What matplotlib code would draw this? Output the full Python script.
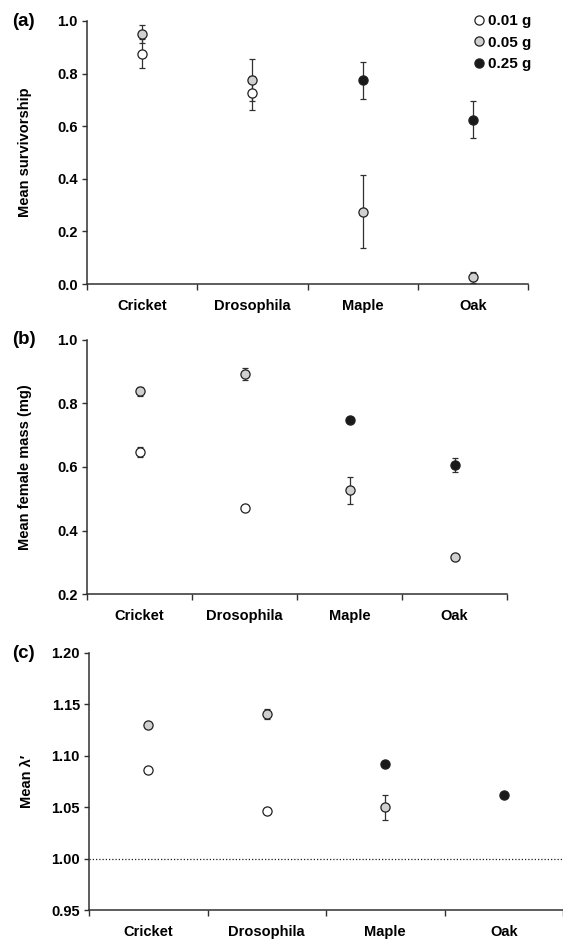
import numpy as np
import matplotlib
matplotlib.use("Agg")
import matplotlib.pyplot as plt
from matplotlib.lines import Line2D
from matplotlib.ticker import FixedLocator, FormatStrFormatter

plt.rcParams['font.family'] = ['Liberation Sans', 'DejaVu Sans']
plt.rcParams['font.weight'] = 'bold'

nan = np.nan

# categorias
categories = ['Cricket', 'Drosophila', 'Maple', 'Oak']
doses = ['0.01 g', '0.05 g', '0.25 g']

# (a) supervivencia media
surv_001 = [0.875, 0.725, nan, nan]
surv_001_err = [0.055, 0.065, 0.0, 0.0]
surv_005 = [0.950, 0.775, 0.275, 0.025]
surv_005_err = [0.033, 0.080, 0.140, 0.022]
surv_025 = [nan, nan, 0.775, 0.625]
surv_025_err = [0.0, 0.0, 0.070, 0.070]

# (b) masa media de hembras
mass_001 = [0.647, 0.470, nan, nan]
mass_001_err = [0.017, 0.004, 0.0, 0.0]
mass_005 = [0.838, 0.892, 0.527, 0.317]
mass_005_err = [0.013, 0.019, 0.042, 0.005]
mass_025 = [nan, nan, 0.749, 0.606]
mass_025_err = [0.0, 0.0, 0.007, 0.023]

# (c) lambda media
lam_001 = [1.086, 1.046, nan, nan]
lam_001_err = [0.002, 0.002, 0.0, 0.0]
lam_005 = [1.130, 1.141, 1.050, nan]
lam_005_err = [0.002, 0.005, 0.012, 0.0]
lam_025 = [nan, nan, 1.092, 1.062]
lam_025_err = [0.0, 0.0, 0.002, 0.002]

fills = ['white', '#d0d0d0', '#1a1a1a']
axcol = '#303030'

W, H = 563, 944
fig = plt.figure(figsize=(W / 100, H / 100), dpi=100)


def px_axes(left, right, top, bottom):
    return fig.add_axes([left / W, 1 - bottom / H, (right - left) / W, (bottom - top) / H])


def panel(ax, series, errs, ylim, yticks, fmt, ylabel, xright=3.5):
    x = np.arange(len(categories))
    for vals, err in zip(series, errs):
        ax.errorbar(x, vals, yerr=err, fmt='none', ecolor=axcol, elinewidth=0.9,
                    capsize=2.3, capthick=0.9, zorder=2)
    for vals, fc in zip(series, fills):
        ax.plot(x, vals, 'o', ms=6.6, mfc=fc, mec='#202020', mew=0.9, zorder=3,
                clip_on=False)
    ax.set_xlim(-0.5, xright)
    ax.set_ylim(*ylim)
    ax.yaxis.set_major_locator(FixedLocator(yticks))
    ax.yaxis.set_major_formatter(FormatStrFormatter(fmt))
    ax.xaxis.set_major_locator(FixedLocator([-0.5, 0.5, 1.5, 2.5, 3.5]))
    ax.xaxis.set_major_formatter(plt.NullFormatter())
    ax.xaxis.set_minor_locator(FixedLocator(x))
    ax.set_xticklabels(categories, minor=True)
    ax.tick_params(axis='x', which='major', direction='out', length=4, width=1.0, color=axcol)
    ax.tick_params(axis='x', which='minor', length=0, pad=11, labelsize=10.5)
    ax.tick_params(axis='y', direction='out', length=3.5, width=1.0, color=axcol,
                   labelsize=10.5, pad=3)
    for s in ['top', 'right']:
        ax.spines[s].set_visible(False)
    for s in ['left', 'bottom']:
        ax.spines[s].set_linewidth(1.1)
        ax.spines[s].set_color(axcol)
    ax.set_ylabel(ylabel, fontsize=10.5, fontweight='bold')
    ax.yaxis.set_label_coords(-55 / (ax.get_position().width * W), 0.5)


ax_a = px_axes(87, 528, 21, 284)
panel(ax_a, [surv_001, surv_005, surv_025], [surv_001_err, surv_005_err, surv_025_err],
      (0.0, 1.0), [0.0, 0.2, 0.4, 0.6, 0.8, 1.0], '%.1f', 'Mean survivorship')

ax_b = px_axes(87, 507, 340, 594)
panel(ax_b, [mass_001, mass_005, mass_025], [mass_001_err, mass_005_err, mass_025_err],
      (0.2, 1.0), [0.2, 0.4, 0.6, 0.8, 1.0], '%.1f', 'Mean female mass (mg)')

ax_c = px_axes(89, 563, 653, 910)
panel(ax_c, [lam_001, lam_005, lam_025], [lam_001_err, lam_005_err, lam_025_err],
      (0.95, 1.20), [0.95, 1.00, 1.05, 1.10, 1.15, 1.20], '%.2f', 'Mean λ′')
ax_c.axhline(1.0, color='#202020', lw=0.9, linestyle=(0, (1, 1.6)), zorder=1)

# leyenda
handles = [Line2D([], [], marker='o', ls='none', ms=6.6, mfc=fc, mec='#202020', mew=0.9)
           for fc in fills]
fig.legend(handles, doses, loc='upper left', bbox_to_anchor=(474 / W, 1 - 14 / H),
           frameon=False, handlelength=0.6, handletextpad=0.3, labelspacing=0.5,
           borderpad=0, borderaxespad=0, prop={'size': 11, 'weight': 'bold'})

# etiquetas de panel
for lab, yp in [('(a)', 21), ('(b)', 340), ('(c)', 653)]:
    fig.text(12 / W, 1 - yp / H, lab, fontsize=13.5, fontweight='bold', va='center', ha='left')

fig.savefig('out.png', dpi=100)
